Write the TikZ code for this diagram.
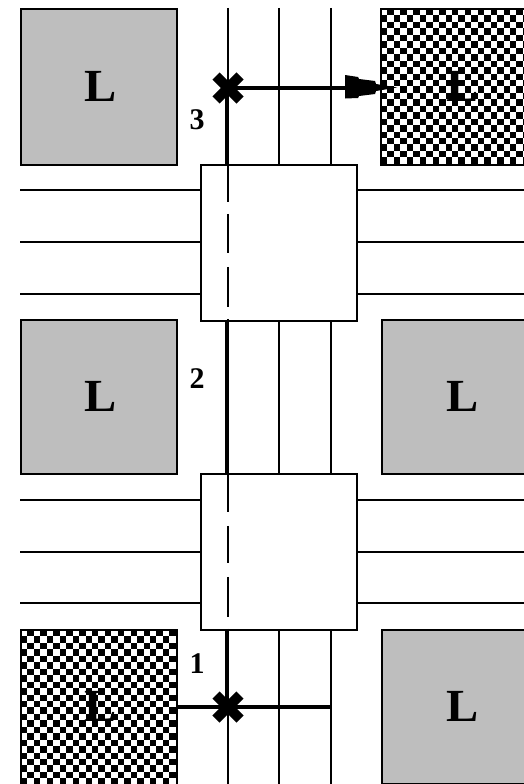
\documentclass[tikz,border=0pt]{standalone}
\usepackage{fontspec}
\setmainfont{Liberation Serif}
\definecolor{lgray}{HTML}{BEBEBE}
\tikzset{
  wire/.style={draw=black,line width=2.1pt},
  heavy/.style={draw=black,line width=4.6pt},
  shaft/.style={draw=black,line width=3.6pt},
  lbox/.style={draw=black,fill=lgray,line width=2.1pt,inner sep=0pt},
  cbox/.style={draw=black,line width=2.1pt,inner sep=0pt},
  ltext/.style={font=\fontsize{46}{46}\bfseries\selectfont,inner sep=0pt},
  router/.style={draw=black,fill=white,line width=2.1pt,inner sep=0pt},
  num/.style={font=\fontsize{30}{30}\bfseries\selectfont,inner sep=0pt},
  dashone/.style={draw=black,line width=2.1pt,dash pattern=on 38pt off 12pt on 39pt off 14pt on 40pt off 12pt},
  dashtwo/.style={draw=black,line width=2.1pt,dash pattern=on 39pt off 14pt on 37pt off 14pt on 40pt off 12pt}
}
\begin{document}
\begin{tikzpicture}[x=1pt,y=-1pt]
\useasboundingbox (0,0) rectangle (524,784);
\fill[white] (0,0) rectangle (524,784);
% vertical wires
\coordinate (v1t) at (228,8); \coordinate (v1b) at (228,784);
\coordinate (v2t) at (279,8); \coordinate (v2b) at (279,784);
\coordinate (v3t) at (331,8); \coordinate (v3b) at (331,784);
\draw[wire] (v1t)--(v1b); \draw[wire] (v2t)--(v2b); \draw[wire] (v3t)--(v3b);
% L boxes
\node[lbox,minimum width=156pt,minimum height=156pt] (a) at (99,87) {};
\node[lbox,minimum width=156pt,minimum height=154pt] (c) at (99,397) {};
\node[lbox,minimum width=160pt,minimum height=154pt] (d) at (462,397) {};
\node[lbox,minimum width=160pt,minimum height=154pt] (f) at (462,707) {};
% checker boxes
\foreach \xa/\ya/\xb/\yb in {381/9/543/165,21/630/177/790}{
  \begin{scope}
  \clip (\xa,\ya) rectangle (\xb,\yb);
  \fill[white] (\xa,\ya) rectangle (\xb,\yb);
  \foreach \i in {0,...,25}\foreach \j in {0,...,25}{
    \pgfmathparse{int(mod(\i+\j,2))}
    \ifnum\pgfmathresult=0
      \fill[black] (\xa+6.45*\i,\ya+6.45*\j) rectangle +(6.45,-6.45);
    \fi}
  \end{scope}
}
\node[cbox,minimum width=160pt,minimum height=156pt] (b) at (461,87) {};
\node[cbox,minimum width=156pt,minimum height=156pt] (e) at (99,708) {};
% labels
\node[ltext] (al) at (100.5,86.5) {\scalebox{1.05}[1]{L}};
\node[ltext] (cl) at (100.5,396.5) {\scalebox{1.05}[1]{L}};
\node[ltext] (dl) at (463,396.5) {\scalebox{1.05}[1]{L}};
\node[ltext] (fl) at (463,706.5) {\scalebox{1.05}[1]{L}};
\node[ltext] (bl) at (463,86.5) {\scalebox{1.05}[1]{L}};
\node[ltext] (el) at (100.5,706.5) {\scalebox{1.05}[1]{L}};
\node[num] (n3) at (197,120) {3};
\node[num] (n2) at (197,379) {2};
\node[num] (n1) at (197,664) {1};
% routers
\node[router,minimum width=156pt,minimum height=156pt] (r1) at (279,243) {};
\node[router,minimum width=156pt,minimum height=156pt] (r2) at (279,552) {};
% horizontal wires
\foreach \y in {190,242,294}{
  \coordinate (l) at (20,\y); \coordinate (rr) at (524,\y);
  \draw[wire] (l)--(r1.west |- l); \draw[wire] (r1.east |- rr)--(rr);}
\foreach \y in {500,552,603}{
  \coordinate (l) at (20,\y); \coordinate (rr) at (524,\y);
  \draw[wire] (l)--(r2.west |- l); \draw[wire] (r2.east |- rr)--(rr);}
% broken wire inside the routers
\draw[dashone] (r1.north -| v1t)--(r1.south -| v1t);
\draw[dashtwo] (r2.north -| v1t)--(r2.south -| v1t);
% route
\coordinate (x3) at (228,88);
\coordinate (x1) at (228,707);
\coordinate (h3) at (227,88);
\coordinate (h1) at (227,707);
\coordinate (w3) at (331,707);
\draw[heavy] (h3)--(r1.north -| h3);
\draw[heavy] (r1.south -| h3)--(r2.north -| h3);
\draw[heavy] (r2.south -| h3)--(h1);
\draw[shaft] (x3)--(350,88);
\fill[black] (345,75)--(358,77)--(359,79)--(375,81)--(376,84)--(397,87.5)--(376,91)--(375,94)--(359,96)--(358,98)--(345,98.5)--cycle;
\draw[shaft] (e.east |- x1)--(w3);
% crosses
\foreach \c in {x1,x3}{
  \draw[black,line width=10pt] (\c) ++(-12,-12) -- ++(24,24);
  \draw[black,line width=10pt] (\c) ++(-12,12) -- ++(24,-24);
}
\end{tikzpicture}
\end{document}
